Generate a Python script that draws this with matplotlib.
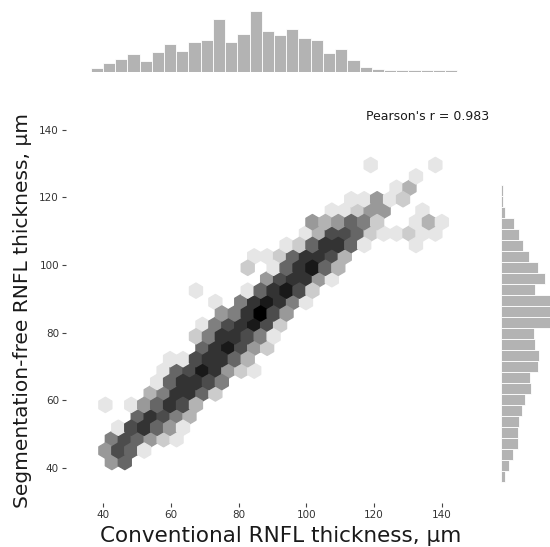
import numpy as np
import matplotlib

matplotlib.use("Agg")
import matplotlib.pyplot as plt
from matplotlib.colors import LinearSegmentedColormap

# hexbin cells: one entry per hex row (top row first),
# first column index of the row and the counts on every second column after it
hex_row_start = [0, 7, 4, -3, -6, -9, -10, -13, -18, -19, -16, -27, -24, -23,
                 -26, -27, -26, -31, -32, -33, -34, -41, -36, -39, -40, -41, -40]
hex_row_counts = [
    [1, 0, 0, 0, 0, 1],
    [1],
    [1, 3],
    [1, 1, 4, 1, 2],
    [1, 1, 2, 4, 4, 0, 0, 1],
    [4, 3, 4, 6, 5, 2, 0, 0, 1, 3, 1],
    [1, 3, 7, 7, 6, 2, 1, 1, 2, 1, 1],
    [1, 2, 6, 8, 8, 6, 1, 0, 0, 0, 1],
    [1, 1, 2, 6, 8, 8, 7, 3],
    [2, 0, 1, 6, 8, 9, 6, 3],
    [4, 7, 8, 8, 4, 1],
    [1, 0, 0, 0, 1, 6, 8, 9, 7, 2],
    [1, 0, 5, 8, 9, 8, 5, 1],
    [4, 5, 8, 10, 7, 4],
    [1, 5, 7, 8, 9, 7, 2],
    [2, 5, 8, 8, 7, 5, 1],
    [6, 8, 9, 7, 4, 2],
    [1, 1, 7, 8, 8, 6, 3],
    [1, 6, 7, 9, 8, 4, 2, 1],
    [1, 6, 8, 8, 7, 5],
    [3, 5, 8, 8, 6, 2],
    [1, 0, 1, 4, 6, 8, 7, 3],
    [6, 8, 7, 5, 3],
    [1, 7, 8, 6, 4, 1],
    [5, 7, 6, 4, 2, 1],
    [4, 7, 6, 1],
    [4, 6],
]

# hex grid of the joint plot (data units)
hex_x_ref, hex_y_ref = 119.0, 129.6
hex_dx, hex_dy = 3.823, 6.76

# marginal histograms
top_hist_range = (36.3, 144.6)
top_hist_counts = [4, 9, 13, 18, 11, 20, 28, 21, 30, 32, 53, 30, 38, 61, 41,
                   37, 43, 34, 32, 19, 23, 12, 5, 3, 2, 2, 2, 2, 2, 2]
right_hist_range = (35.9, 123.7)
right_hist_counts = [3, 6, 9, 13, 13, 14, 16, 18, 23, 22, 28, 29, 26, 25, 37,
                     37, 37, 26, 33, 28, 21, 17, 14, 10, 3, 2, 1.5]

ticks = [40, 60, 80, 100, 120, 140]
pearson_r = 0.983

# hex centres from the row/column indices
hx, hy, hc = [], [], []
for k, (start, counts) in enumerate(zip(hex_row_start, hex_row_counts)):
    for i, c in enumerate(counts):
        if c > 0:
            h = start + 2 * i
            hx.append(hex_x_ref + h * hex_dx / 2)
            hy.append(hex_y_ref - k * hex_dy / 2)
            hc.append(c)

xmin = hex_x_ref - 22 * hex_dx
ymin = hex_y_ref - 14 * hex_dy
extent = (xmin, xmin + 29 * hex_dx, ymin, hex_y_ref)

W, H = 550, 547
fig = plt.figure(figsize=(W / 100, H / 100), dpi=100)
ax = fig.add_axes([66 / W, 1 - 503 / H, 413 / W, 410 / H])
ax_top = fig.add_axes([66 / W, 1 - 72 / H, 413 / W, 66 / H], sharex=ax)
ax_right = fig.add_axes([500.7 / W, 1 - 503 / H, 50.3 / W, 410 / H], sharey=ax)

cmap = LinearSegmentedColormap.from_list("w2k", ["white", "black"])
ax.hexbin(hx, hy, C=hc, reduce_C_function=np.sum, gridsize=(29, 14),
          extent=extent, cmap=cmap, vmin=0, vmax=10, mincnt=1)

ax.set_xlim(29, 151)
ax.set_ylim(29.6, 150.9)
ax.set_xticks(ticks)
ax.set_yticks(ticks)
ax.tick_params(labelsize=7.5, length=3, width=0.8, pad=2,
               color="#444444", labelcolor="#333333")
for s in ax.spines.values():
    s.set_visible(False)

ax.set_xlabel("Conventional RNFL thickness, µm", fontsize=15.5, color="#1a1a1a")
ax.set_ylabel("Segmentation-free RNFL thickness, µm", fontsize=14.5, color="#1a1a1a")
ax.xaxis.set_label_coords(0.52, -0.057)
ax.yaxis.set_label_coords(-0.082, 0.47)

bar_color = "#b3b3b3"
edges = np.linspace(*top_hist_range, len(top_hist_counts) + 1)
ax_top.bar(edges[:-1], top_hist_counts, width=np.diff(edges), align="edge",
           color=bar_color, edgecolor="white", linewidth=0.6)
ax_top.set_ylim(0, 65.7)

edges = np.linspace(*right_hist_range, len(right_hist_counts) + 1)
ax_right.barh(edges[:-1], right_hist_counts, height=np.diff(edges), align="edge",
              color=bar_color, edgecolor="white", linewidth=0.6)
ax_right.set_xlim(0, 37.75)

for a in (ax_top, ax_right):
    a.axis("off")

fig.text(366 / W, 1 - 117 / H, f"Pearson's r = {pearson_r}", fontsize=9,
         va="center", ha="left", color="#1a1a1a")

fig.savefig("out.png", dpi=100)
